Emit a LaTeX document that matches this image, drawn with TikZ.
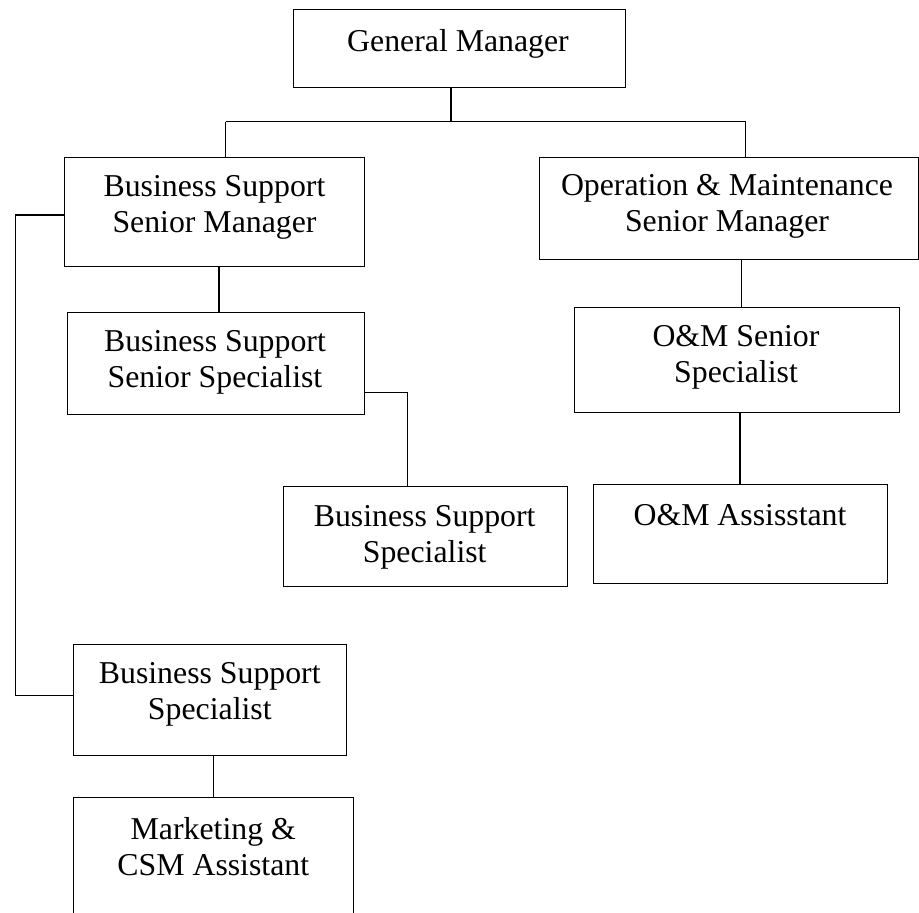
\documentclass[tikz,border=0pt]{standalone}
\usepackage{fontspec}
\setmainfont{Liberation Serif}
\usetikzlibrary{positioning}
\tikzset{
  box/.style={draw=black, line width=1pt, rectangle, inner sep=0pt, anchor=north west},
  lbl/.style={inner sep=0pt, anchor=base, font=\fontsize{31.8}{36}\selectfont},
  conn/.style={draw=black, line width=1.4pt}
}
\newcommand{\twoline}[2]{\begin{tabular}[t]{@{}c@{}}#1\\#2\end{tabular}}
\begin{document}
\begin{tikzpicture}[x=1pt,y=-1pt]
\useasboundingbox (0,0) rectangle (919,913);
\clip (0,0) rectangle (919,913);
% boxes
\node[box, minimum width=332.6pt, minimum height=78pt]   (gm)   at (292.7,9.3) {};
\node[box, minimum width=300pt,   minimum height=108.7pt] (bssm) at (64.3,157.3) {};
\node[box, minimum width=378.5pt, minimum height=101.7pt] (omsm) at (539,157.3) {};
\node[box, minimum width=297.3pt, minimum height=102.3pt] (bsss) at (67,311.7) {};
\node[box, minimum width=325.8pt, minimum height=105.6pt] (omss) at (573.5,306.7) {};
\node[box, minimum width=284pt,   minimum height=99.7pt]  (bssr) at (282.7,486) {};
\node[box, minimum width=294pt,   minimum height=98.4pt]  (oma)  at (592.7,484.3) {};
\node[box, minimum width=273.3pt, minimum height=110.7pt] (bssl) at (72.7,644.3) {};
\node[box, minimum width=280pt,   minimum height=140pt]   (mkt)  at (73.3,796.7) {};
% labels
\node[lbl] (gmt)   at (458,51.7)   {General Manager};
\node[lbl] (bssmt) at (214.5,196.7) {\twoline{Business Support}{Senior Manager}};
\node[lbl] (omsmt) at (727,195.5)  {\twoline{Operation \& Maintenance}{Senior Manager}};
\node[lbl] (bssst) at (215,351.7)  {\twoline{Business Support}{Senior Specialist}};
\node[lbl] (omsst) at (736,346.7)  {\twoline{O\&M Senior}{Specialist}};
\node[lbl] (bssrt) at (424.7,526.7) {\twoline{Business Support}{Specialist}};
\node[lbl] (omat)  at (740,525)    {O\&M Assisstant};
\node[lbl] (bsslt) at (209.8,683.3) {\twoline{Business Support}{Specialist}};
\node[lbl] (mktt)  at (213.3,839.3) {\twoline{Marketing \&}{CSM Assistant}};
% junction coordinates
\coordinate (j0) at (451,121.7);
\coordinate (jl) at (225.5,121.7);
\coordinate (jr) at (745.7,121.7);
\coordinate (jleft) at (15.5,215);
\coordinate (jleftb) at (15.5,695.7);
\coordinate (jbs) at (407.7,392.3);
% connectors
\draw[conn] (gm.south -| j0) -- (j0);
\draw[conn] (jl) -- (jr);
\draw[conn] (jl) -- (bssm.north -| jl);
\draw[conn] (jr) -- (omsm.north -| jr);
\draw[conn] (bssm.south -| 219,0) -- (bsss.north -| 219,0);
\draw[conn] (bssm.west |- jleft) -- (jleft) -- (jleftb) -- (bssl.west |- jleftb);
\draw[conn] (bsss.east |- jbs) -- (jbs) -- (bssr.north -| jbs);
\draw[conn] (omsm.south -| 741.7,0) -- (omss.north -| 741.7,0);
\draw[conn] (omss.south -| 740,0) -- (oma.north -| 740,0);
\draw[conn] (bssl.south -| 213.7,0) -- (mkt.north -| 213.7,0);
\end{tikzpicture}
\end{document}
